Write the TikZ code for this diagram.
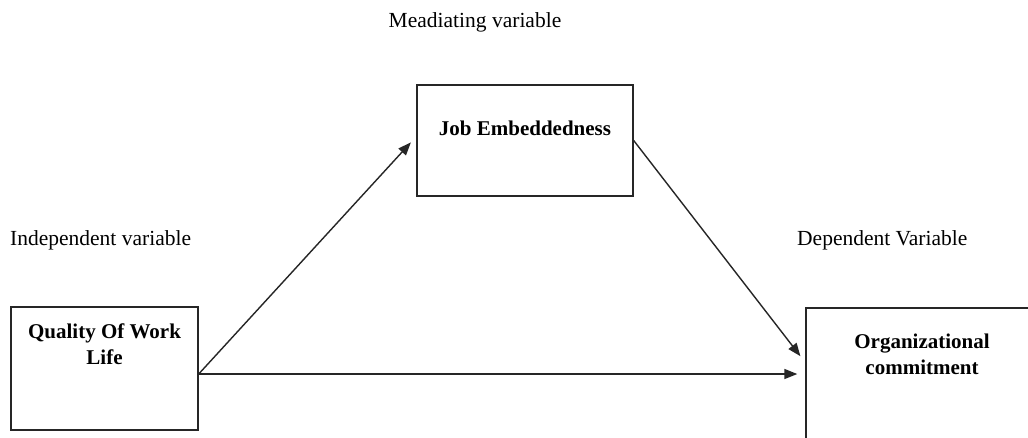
\documentclass[tikz,border=0pt]{standalone}
\usepackage{fontspec}
\setmainfont{Liberation Serif}
\usetikzlibrary{arrows.meta}
\tikzset{
  box/.style={draw=black!85, line width=1.4pt, inner sep=0pt, fill=white},
  boxtext/.style={font=\fontsize{21}{26}\selectfont\bfseries, align=center, inner sep=0pt},
  lbl/.style={font=\fontsize{21.5}{26}\selectfont, inner sep=0pt},
  conn/.style={draw=black!85, line width=1.4pt, -{Triangle[length=13pt,width=10pt]}, shorten >=8pt}
}
\begin{document}
\begin{tikzpicture}[x=1pt,y=-1pt]
\useasboundingbox (0,0) rectangle (1028,437);
\clip (0,0) rectangle (1028,437);
\fill[white] (0,0) rectangle (1028,437);
% boxes
\node[box, minimum width=187pt, minimum height=123pt] (q) at (104.5,368.5) {};
\node[box, minimum width=216pt, minimum height=111pt] (j) at (525,140.5) {};
\node[box, minimum width=232pt, minimum height=137pt] (c) at (922,376.5) {};
% box texts
\node[boxtext] (qt) at (104.5,344) {Quality Of Work\\Life};
\node[boxtext] (jt) at (525,128) {Job Embeddedness};
\node[boxtext] (ct) at (922,354) {Organizational\\commitment};
% labels
\node[lbl] (ml) at (475,22) {Meadiating variable};
\node[lbl, anchor=west] (il) at (10,240) {Independent variable};
\node[lbl, anchor=west] (dl) at (797,240) {Dependent Variable};
% connectors
\draw[conn] ([yshift=-5.5pt]q.east) -- ([yshift=4pt]j.west);
\draw[conn] ([yshift=-5.5pt]q.east) -- ([yshift=2.5pt]c.west);
\draw[conn] (j.east) -- ([yshift=14pt]c.west);
\end{tikzpicture}
\end{document}
